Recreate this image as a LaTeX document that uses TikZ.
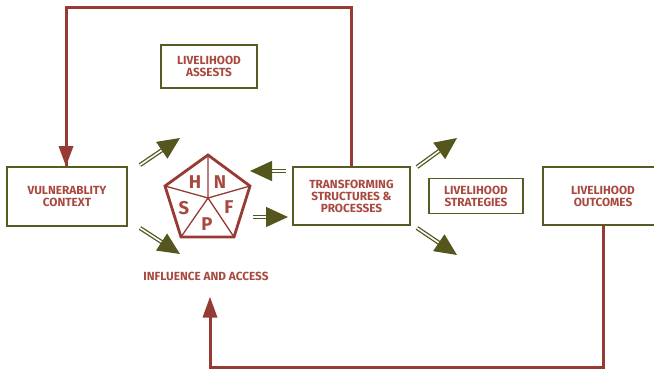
\documentclass[tikz,border=0pt]{standalone}
\usepackage{fontspec}
\setmainfont{Fira Sans}
\usetikzlibrary{arrows.meta,calc}
\definecolor{olivebox}{HTML}{5A5A25}
\definecolor{olivearrow}{HTML}{55551E}
\definecolor{redline}{HTML}{973A33}
\definecolor{redtext}{HTML}{A8493F}
\begin{document}
\begin{tikzpicture}[x=1pt,y=-1pt,
  box/.style={draw=olivebox,line width=1.8pt,inner sep=0pt,align=center,
    font=\fontsize{11.8}{12}\selectfont\bfseries,text=redtext},
  fb/.style={draw=redline,line width=3pt},
  garrow/.style={draw=olivearrow,double=white,double distance=1.6pt,line width=1.3pt,
    -{Triangle[length=22pt,width=20pt,fill=olivearrow]}},
  letter/.style={text=redtext,font=\fontsize{18.5}{19}\selectfont\bfseries,inner sep=0pt}]
\useasboundingbox (0,0) rectangle (654,370);
\node[box,minimum width=120pt,minimum height=59pt] (vc) at (67,196.5) {VULNERABLITY\\CONTEXT};
\node[box,minimum width=96pt,minimum height=43pt] (la) at (209,66.5) {LIVELIHOOD\\ASSESTS};
\node[box,minimum width=117pt,minimum height=58pt] (ta) at (351.5,196) {TRANSFORMING\\STRUCTURES \&\\PROCESSES};
\node[box,minimum width=94pt,minimum height=35pt] (ls) at (476,196) {LIVELIHOOD\\STRATEGIES};
\node[box,minimum width=120pt,minimum height=58pt] (lo) at (603,196) {LIVELIHOOD\\OUTCOMES};
\node[text=redtext,font=\fontsize{11.8}{12}\selectfont\bfseries,inner sep=0pt] (ia) at (206,276) {INFLUENCE AND ACCESS};
% pentagon
\coordinate (pc) at (208,198);
\coordinate (p1) at (208,155);
\coordinate (p2) at (250,186);
\coordinate (p3) at (234,237);
\coordinate (p4) at (181,237);
\coordinate (p5) at (165,186);
\draw[redline,line width=1.3pt] (pc)--(p1) (pc)--(p2) (pc)--(p3) (pc)--(p4) (pc)--(p5);
\draw[redline,line width=2.8pt,line join=miter] (p1)--(p2)--(p3)--(p4)--(p5)--cycle;
\node[letter] (h) at (195,182.5) {H};
\node[letter] (n) at (220,182.5) {N};
\node[letter] (s) at (184,208.5) {S};
\node[letter] (f) at (229,207.5) {F};
\node[letter] (p) at (207,224.5) {P};
% feedback lines
\coordinate (tr) at (351.5,7);
\coordinate (tl) at (66,7);
\draw[fb] (ta.north) -- (tr) -- (tl) -- (vc.north -| tl);
\fill[redline] (vc.north -| tl) -- ++(-7.5,-20) -- ++(15,0) -- cycle;
\coordinate (br) at (603,367.5);
\coordinate (bl) at (210,367.5);
\coordinate (bt) at (210,317);
\draw[fb] (lo.south) -- (br) -- (bl) -- (bt);
\fill[redline] (210,297) -- (202.5,317.5) -- (217.5,317.5) -- cycle;
% green arrows
\coordinate (a1s) at (140,165); \coordinate (a1e) at (180,138);
\coordinate (a2s) at (140,228); \coordinate (a2e) at (180,254);
\coordinate (a3s) at (286,171); \coordinate (a3e) at (250,171);
\coordinate (a4s) at (253,217); \coordinate (a4e) at (288,217);
\coordinate (a5s) at (417,167); \coordinate (a5e) at (457,138);
\coordinate (a6s) at (417,228); \coordinate (a6e) at (457,255);
\draw[garrow] (a1s) -- (a1e);
\draw[garrow] (a2s) -- (a2e);
\draw[garrow] (a3s) -- (a3e);
\draw[garrow] (a4s) -- (a4e);
\draw[garrow] (a5s) -- (a5e);
\draw[garrow] (a6s) -- (a6e);
\end{tikzpicture}
\end{document}
